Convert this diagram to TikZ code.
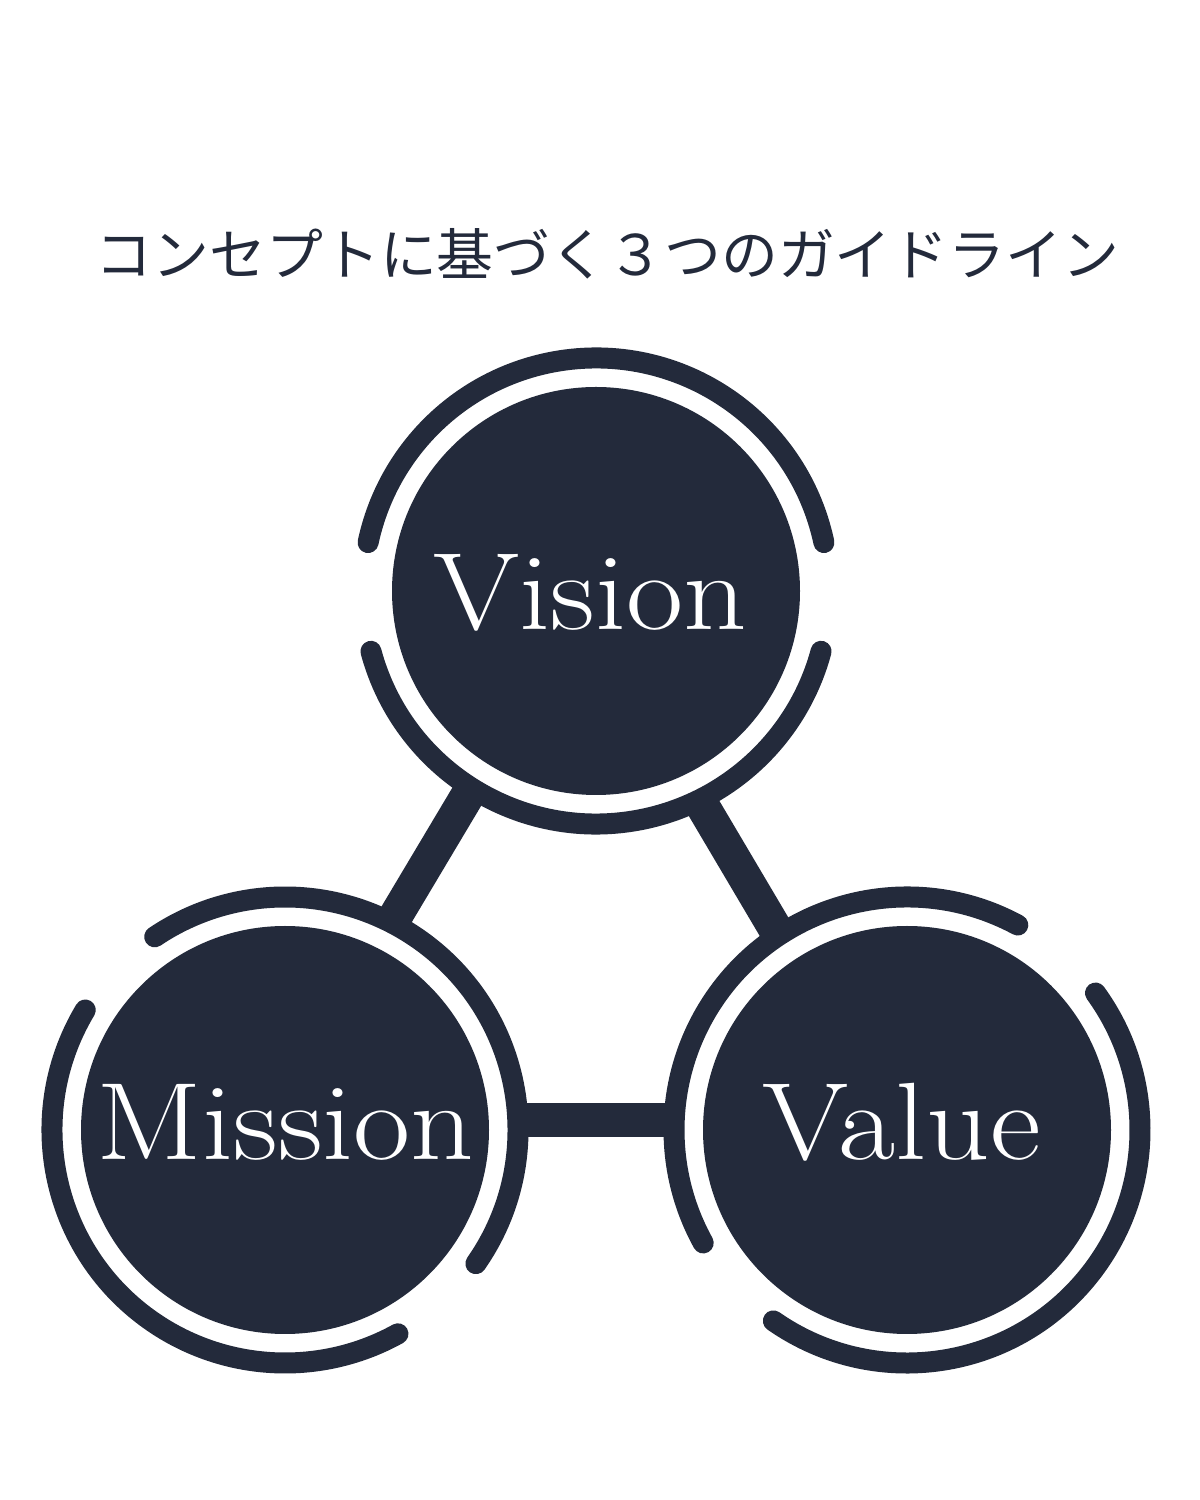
\documentclass[tikz,border=0pt]{standalone}
\usepackage{fontspec}
\newfontfamily\jpfont{Noto Sans CJK JP}
\usetikzlibrary{calc}
\definecolor{navy}{RGB}{35,42,59}
\begin{document}
\begin{tikzpicture}[x=0.5pt,y=0.5pt,
  disc/.style={circle,fill=navy,draw=none,minimum size=204pt,inner sep=0pt},
  ring/.style={draw=navy,line width=10.5pt,line cap=round},
  bar/.style={draw=navy,line width=17pt,line cap=butt},
  lbl/.style={text=white,font=\fontsize{55}{60}\selectfont,anchor=base,inner sep=0pt},
  ttl/.style={text=navy,font=\jpfont\fontsize{28}{32}\selectfont,anchor=base,inner sep=0pt}]
\useasboundingbox[fill=white] (0,0) rectangle (1200,1500);
% title
\node[ttl] (title) at (607.5,1224) {\scalebox{1.015}[1]{コンセプトに基づく３つのガイドライン}};
% discs
\node[disc] (V) at (596,909) {};
\node[disc] (M) at (285,370) {};
\node[disc] (U) at (907,370) {};
% bar end points on the rings
\coordinate (vm1) at (470.6,709.7);
\coordinate (vm2) at (392.6,578.9);
\coordinate (vu1) at (700.1,698.3);
\coordinate (vu2) at (778.1,566.4);
\coordinate (mu1) at (519,380);
\coordinate (mu2) at (673,380);
\draw[bar] (vm1) -- (vm2);
\draw[bar] (vu1) -- (vu2);
\draw[bar] (mu1) -- (mu2);
% rings
\draw[ring] (V) ++(12:233) arc[start angle=12, end angle=168, radius=233];
\draw[ring] (V) ++(195:233) arc[start angle=195, end angle=345, radius=233];
\draw[ring] (M) ++(-35:233) arc[start angle=-35, end angle=124, radius=233];
\draw[ring] (M) ++(149:233) arc[start angle=149, end angle=299, radius=233];
\draw[ring] (U) ++(61.6:233) arc[start angle=61.6, end angle=209, radius=233];
\draw[ring] (U) ++(-125:233) arc[start angle=-125, end angle=36, radius=233];
% labels
\node[lbl] (tV) at (590,870) {\scalebox{1.13}[1]{Vision}};
\node[lbl] (tM) at (285.5,340) {\scalebox{1.13}[1]{Mission}};
\node[lbl] (tU) at (901.5,340) {\scalebox{1.13}[1]{Value}};
\end{tikzpicture}
\end{document}
